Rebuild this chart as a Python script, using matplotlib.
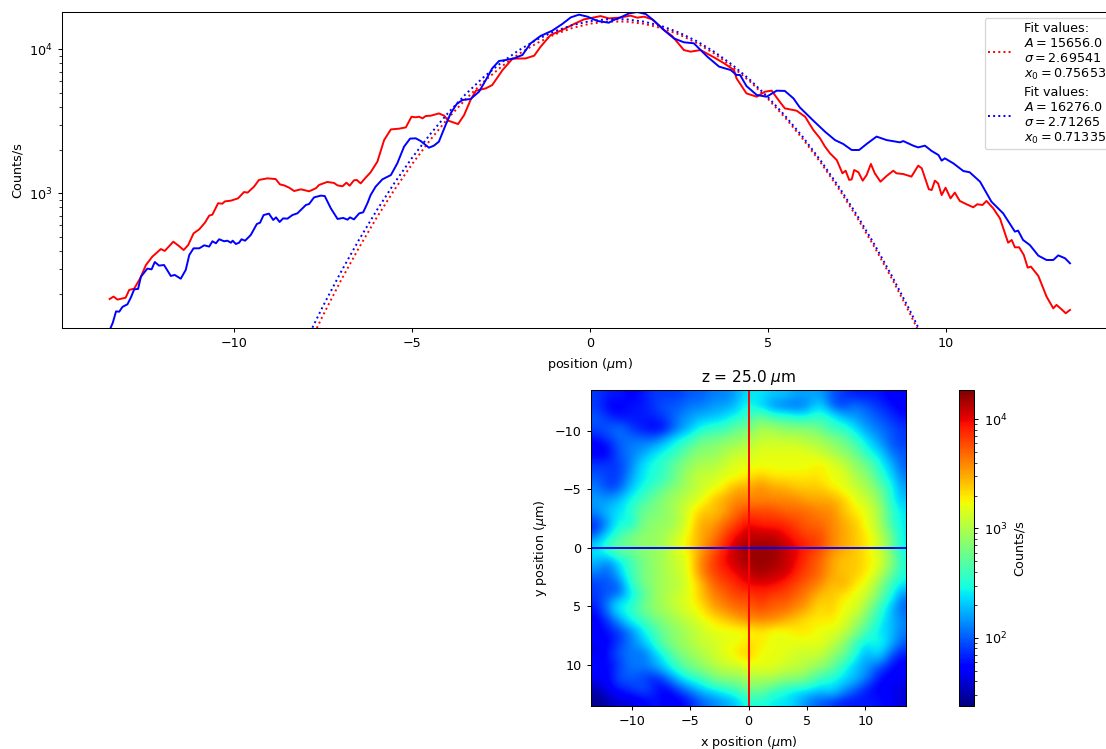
#!/usr/bin/env python3
import numpy as np
import matplotlib
matplotlib.use("Agg")
import matplotlib.pyplot as plt
from matplotlib.colors import LogNorm

W, H = 1106, 749

plt.rcParams.update({
    "font.size": 9.2,
    "lines.linewidth": 1.4,
    "axes.linewidth": 0.74,
    "patch.linewidth": 0.92,
    "xtick.major.size": 3.2,
    "ytick.major.size": 3.2,
    "xtick.minor.size": 1.85,
    "ytick.minor.size": 1.85,
    "xtick.major.width": 0.74,
    "ytick.major.width": 0.74,
    "xtick.minor.width": 0.55,
    "ytick.minor.width": 0.55,
})

# measured profiles: position (um) and log10(counts/s)
red_x = [-13.51, -13.40, -13.29, -13.06, -12.96, -12.82, -12.65, -12.49, -12.31, -12.07, -11.96, -11.72, -11.56, -11.43, -11.30, -11.15, -10.99, -10.83, -10.71, -10.62, -10.46, -10.34, -10.27, -10.10, -9.90, -9.73, -9.63, -9.45, -9.31, -9.07, -8.84, -8.72, -8.60, -8.46, -8.32, -8.13, -7.90, -7.71, -7.62, -7.39, -7.20, -7.10, -6.96, -6.85, -6.76, -6.64, -6.56, -6.45, -6.31, -6.17,
         -5.98, -5.79, -5.60, -5.37, -5.18, -5.02, -4.90, -4.81, -4.71, -4.62, -4.48, -4.25, -4.10, -3.99, -3.71, -3.54, -3.36, -3.21, -2.93, -2.75, -2.46, -2.18, -1.81, -1.57, -1.39, -1.11, -0.82, -0.45, -0.17, 0.30, 0.53, 0.82, 1.14, 1.33, 1.52, 1.75, 2.08, 2.31, 2.64, 2.83, 3.11, 3.49, 3.77, 4.05,
         4.12, 4.40, 4.69, 4.92, 5.11, 5.30, 5.48, 5.81, 6.05, 6.28, 6.47, 6.61, 6.75, 6.94, 7.10, 7.19, 7.29, 7.36, 7.43, 7.55, 7.67, 7.78, 7.90, 8.01, 8.17, 8.34, 8.53, 8.62, 8.81, 9.04, 9.23, 9.33, 9.53, 9.61, 9.70, 9.79, 9.89, 10.00, 10.14, 10.26, 10.40, 10.59, 10.78, 10.89, 11.04, 11.15, 11.34, 11.53, 11.76, 11.86, 11.95, 12.07, 12.20, 12.31, 12.40, 12.61, 12.84, 13.03, 13.12, 13.26, 13.38, 13.50]
red_log = [2.266, 2.283, 2.262, 2.275, 2.329, 2.338, 2.410, 2.502, 2.560, 2.613, 2.600, 2.664, 2.634, 2.606, 2.641, 2.722, 2.750, 2.796, 2.845, 2.852, 2.931, 2.928, 2.944, 2.949, 2.965, 3.009, 3.005, 3.046, 3.093, 3.104, 3.099, 3.062, 3.055, 3.039, 3.016, 3.028, 3.014, 3.035, 3.058, 3.079, 3.072, 3.055, 3.049, 3.074, 3.053, 3.090, 3.093, 3.069, 3.109, 3.146,
           3.220, 3.370, 3.444, 3.449, 3.458, 3.532, 3.528, 3.532, 3.521, 3.537, 3.539, 3.555, 3.539, 3.505, 3.481, 3.544, 3.648, 3.713, 3.729, 3.752, 3.856, 3.935, 3.937, 3.956, 4.018, 4.099, 4.130, 4.176, 4.208, 4.231, 4.215, 4.220, 4.234, 4.220, 4.227, 4.208, 4.134, 4.093, 3.995, 3.984, 3.995, 3.944, 3.903, 3.856,
           3.799, 3.694, 3.671, 3.706, 3.713, 3.648, 3.590, 3.574, 3.532, 3.440, 3.382, 3.324, 3.278, 3.231, 3.139, 3.157, 3.093, 3.097, 3.162, 3.146, 3.088, 3.127, 3.204, 3.139, 3.081, 3.120, 3.157, 3.139, 3.134, 3.116, 3.192, 3.174, 3.028, 3.023, 3.088, 3.069, 2.988, 3.039, 2.965, 3.005, 2.947, 2.924, 2.903, 2.924, 2.919, 2.947, 2.896, 2.826, 2.657, 2.676, 2.625, 2.625, 2.572, 2.484, 2.491, 2.426, 2.283, 2.201, 2.225, 2.195, 2.167, 2.190]

blue_x = [-13.51, -13.42, -13.33, -13.24, -13.15, -13.01, -12.91, -12.82, -12.71, -12.63, -12.45, -12.33, -12.24, -12.12, -11.98, -11.79, -11.68, -11.51, -11.37, -11.27, -11.15, -10.99, -10.85, -10.71, -10.62, -10.52, -10.43, -10.29, -10.20, -10.10, -10.05, -9.96, -9.87, -9.80, -9.70, -9.54, -9.37, -9.28, -9.18, -9.03, -8.91, -8.83, -8.73, -8.63, -8.51, -8.37, -8.23, -7.99, -7.90, -7.76, -7.57, -7.46, -7.29, -7.10, -6.94, -6.82, -6.75, -6.64, -6.49, -6.38, -6.26, -6.17,
          -6.03, -5.84, -5.60, -5.42, -5.23, -5.06, -4.90, -4.76, -4.53, -4.39, -4.25, -4.06, -3.92, -3.75, -3.59, -3.36, -3.12, -2.93, -2.75, -2.56, -2.37, -2.14, -1.90, -1.67, -1.39, -1.06, -0.78, -0.54, -0.31, -0.07, 0.21, 0.53, 0.67, 0.86, 1.10, 1.33, 1.57, 1.80, 2.08, 2.36, 2.64, 2.92, 3.30, 3.63, 3.96,
          4.12, 4.22, 4.40, 4.69, 4.97, 5.25, 5.48, 5.72, 5.90, 6.28, 6.61, 6.89, 7.12, 7.36, 7.57, 7.78, 8.06, 8.34, 8.72, 8.81, 9.09, 9.23, 9.42, 9.61, 9.80, 9.89, 9.98, 10.22, 10.50, 10.68, 10.97, 11.29, 11.62, 11.95, 12.04, 12.18, 12.37, 12.61, 12.84, 13.03, 13.17, 13.36, 13.50]
blue_log = [2.050, 2.102, 2.180, 2.178, 2.211, 2.229, 2.278, 2.333, 2.336, 2.421, 2.477, 2.472, 2.523, 2.498, 2.502, 2.426, 2.433, 2.407, 2.468, 2.572, 2.618, 2.618, 2.639, 2.630, 2.667, 2.653, 2.681, 2.667, 2.671, 2.657, 2.671, 2.648, 2.657, 2.681, 2.671, 2.711, 2.787, 2.796, 2.849, 2.859, 2.815, 2.833, 2.801, 2.826, 2.824, 2.849, 2.861, 2.919, 2.926, 2.972, 2.984, 2.981, 2.896, 2.822, 2.829, 2.817, 2.833, 2.819, 2.861, 2.868, 2.931, 2.988,
            3.046, 3.097, 3.127, 3.208, 3.324, 3.380, 3.382, 3.363, 3.317, 3.331, 3.359, 3.475, 3.555, 3.620, 3.648, 3.655, 3.706, 3.787, 3.868, 3.919, 3.926, 3.937, 3.961, 4.042, 4.093, 4.130, 4.176, 4.222, 4.241, 4.227, 4.197, 4.185, 4.204, 4.222, 4.250, 4.259, 4.245, 4.199, 4.134, 4.076, 4.049, 4.042, 3.949, 3.880, 3.856,
            3.822, 3.822, 3.745, 3.683, 3.671, 3.713, 3.711, 3.660, 3.597, 3.505, 3.428, 3.370, 3.343, 3.301, 3.301, 3.343, 3.394, 3.370, 3.354, 3.363, 3.331, 3.319, 3.331, 3.294, 3.266, 3.227, 3.243, 3.208, 3.155, 3.146, 3.081, 2.942, 2.861, 2.734, 2.741, 2.676, 2.641, 2.567, 2.537, 2.537, 2.569, 2.549, 2.514]

# fit curves, log10(counts/s)
fit_x = [-8.0, -7.5, -7.0, -6.5, -6.0, -5.5, -5.0, -4.5, -4.0, -3.5, -3.0, -2.5, -2.0, -1.5, -1.0, -0.5, 0.0, 0.5, 1.0, 1.5, 2.0, 2.5, 3.0, 3.5, 4.0, 4.5, 5.0, 5.5, 6.0, 6.5, 7.0, 7.5, 8.0, 8.5, 9.0, 9.5]
fit_red_log = [1.903, 2.157, 2.397, 2.621, 2.831, 3.025, 3.204, 3.369, 3.519, 3.653, 3.773, 3.878, 3.968, 4.042, 4.103, 4.148, 4.178, 4.193, 4.193, 4.178, 4.148, 4.104, 4.044, 3.970, 3.880, 3.776, 3.657, 3.522, 3.373, 3.209, 3.030, 2.835, 2.627, 2.403, 2.164, 1.910]
fit_blue_log = [1.971, 2.221, 2.456, 2.676, 2.881, 3.072, 3.248, 3.409, 3.556, 3.688, 3.805, 3.907, 3.994, 4.067, 4.125, 4.168, 4.196, 4.210, 4.209, 4.193, 4.163, 4.117, 4.057, 3.982, 3.893, 3.788, 3.669, 3.535, 3.387, 3.223, 3.045, 2.852, 2.645, 2.422, 2.185, 1.933]

fit_red_label = "Fit values:\n$A=15656.0$\n$\\sigma=2.69541$\n$x_0=0.75653$"
fit_blue_label = "Fit values:\n$A=16276.0$\n$\\sigma=2.71265$\n$x_0=0.71335$"

# beam map read on a 1 um grid, y = -13..13 down, x = -13..13 across, in dB of counts/s
map_db = [
    [19, 18, 18, 17, 18, 19, 19, 19, 20, 20, 21, 21, 22, 24, 24, 23, 23, 22, 22, 22, 20, 19, 18, 18, 18, 17, 17],
    [19, 17, 17, 18, 18, 19, 20, 20, 21, 21, 22, 22, 23, 25, 23, 21, 20, 20, 21, 24, 20, 19, 21, 20, 19, 18, 17],
    [20, 19, 18, 18, 18, 18, 19, 21, 22, 23, 23, 24, 25, 26, 28, 26, 26, 25, 25, 26, 25, 23, 22, 21, 20, 19, 18],
    [19, 20, 21, 19, 18, 17, 18, 21, 23, 25, 26, 26, 28, 28, 30, 30, 29, 29, 29, 28, 26, 26, 24, 22, 21, 20, 19],
    [17, 18, 20, 21, 21, 21, 23, 25, 26, 28, 28, 29, 29, 30, 31, 31, 31, 31, 30, 30, 29, 28, 26, 24, 22, 20, 19],
    [17, 17, 20, 21, 22, 24, 25, 26, 28, 29, 29, 30, 31, 31, 32, 32, 32, 32, 32, 31, 30, 29, 28, 25, 24, 21, 20],
    [19, 19, 19, 21, 24, 25, 26, 28, 29, 30, 30, 31, 32, 32, 32, 32, 32, 32, 32, 33, 32, 31, 29, 28, 25, 23, 20],
    [20, 19, 19, 22, 24, 25, 26, 28, 30, 31, 31, 32, 32, 33, 34, 33, 33, 33, 33, 33, 32, 32, 30, 29, 26, 24, 21],
    [21, 19, 20, 23, 25, 26, 28, 29, 30, 31, 32, 33, 35, 35, 36, 35, 35, 34, 34, 34, 33, 32, 31, 30, 28, 25, 22],
    [22, 22, 23, 25, 26, 28, 29, 30, 31, 32, 34, 35, 36, 36, 36, 36, 36, 36, 35, 35, 35, 34, 32, 31, 29, 25, 23],
    [21, 23, 24, 25, 28, 28, 29, 30, 32, 34, 34, 35, 37, 38, 38, 38, 37, 37, 37, 36, 36, 34, 33, 32, 30, 26, 24],
    [18, 21, 25, 24, 28, 29, 29, 30, 32, 35, 35, 37, 38, 40, 39, 39, 39, 38, 37, 37, 36, 35, 34, 32, 30, 26, 24],
    [20, 24, 26, 28, 29, 29, 30, 31, 33, 35, 36, 38, 40, 41, 41, 41, 40, 39, 38, 38, 36, 35, 34, 33, 31, 28, 24],
    [24, 26, 28, 28, 29, 29, 30, 32, 33, 35, 37, 39, 41, 42, 42, 42, 41, 40, 39, 38, 36, 35, 34, 33, 31, 28, 24],
    [23, 21, 24, 26, 28, 29, 30, 31, 32, 36, 38, 40, 41, 42, 42, 42, 41, 40, 38, 37, 35, 34, 34, 33, 32, 29, 25],
    [21, 20, 23, 26, 28, 29, 30, 31, 32, 36, 38, 39, 40, 41, 42, 41, 41, 39, 38, 37, 35, 34, 34, 33, 31, 28, 25],
    [19, 20, 20, 25, 28, 29, 30, 30, 32, 34, 37, 38, 39, 40, 40, 40, 39, 38, 37, 36, 34, 35, 33, 32, 29, 26, 24],
    [19, 20, 20, 24, 26, 29, 30, 31, 32, 34, 36, 37, 38, 38, 39, 38, 38, 37, 36, 34, 34, 33, 32, 31, 28, 25, 21],
    [18, 21, 25, 25, 28, 29, 30, 31, 32, 33, 35, 36, 37, 37, 38, 37, 37, 36, 35, 33, 34, 32, 32, 29, 26, 23, 20],
    [17, 19, 22, 25, 26, 28, 29, 30, 31, 32, 33, 34, 35, 36, 36, 36, 35, 34, 33, 33, 33, 32, 30, 28, 25, 23, 21],
    [17, 18, 19, 21, 24, 26, 28, 29, 30, 31, 32, 32, 32, 32, 33, 32, 32, 33, 33, 32, 32, 31, 29, 26, 24, 23, 21],
    [17, 17, 19, 21, 23, 25, 28, 29, 30, 31, 31, 32, 32, 33, 33, 32, 32, 32, 32, 32, 31, 29, 26, 24, 25, 23, 20],
    [16, 18, 20, 21, 20, 23, 25, 28, 29, 30, 31, 32, 33, 34, 32, 32, 32, 31, 31, 31, 29, 28, 25, 22, 24, 20, 18],
    [18, 17, 19, 21, 21, 22, 24, 26, 28, 29, 30, 31, 31, 32, 32, 32, 31, 31, 30, 29, 28, 25, 23, 22, 20, 18, 17],
    [17, 17, 20, 20, 19, 18, 20, 23, 25, 26, 28, 29, 29, 30, 30, 30, 29, 29, 28, 26, 25, 24, 23, 21, 18, 17, 17],
    [15, 17, 18, 19, 20, 18, 17, 19, 21, 23, 24, 25, 26, 28, 28, 26, 25, 24, 24, 23, 24, 22, 20, 18, 17, 17, 16],
    [14, 15, 16, 16, 17, 18, 17, 17, 18, 20, 21, 22, 23, 25, 25, 24, 24, 23, 21, 20, 19, 18, 18, 18, 18, 17, 16],
]


def rect(left, top, right, bottom):
    # pixel box of the reference to figure fractions
    return [left / W, 1 - bottom / H, (right - left) / W, (bottom - top) / H]


def main():
    fig = plt.figure(figsize=(W / 100, H / 100), dpi=100)

    ax = fig.add_axes(rect(62, 12, 1118, 327.7))
    ax.semilogy(red_x, 10 ** np.array(red_log), color="red")
    ax.semilogy(fit_x, 10 ** np.array(fit_red_log), ":", color="red", label=fit_red_label)
    ax.semilogy(blue_x, 10 ** np.array(blue_log), color="blue")
    ax.semilogy(fit_x, 10 ** np.array(fit_blue_log), ":", color="blue", label=fit_blue_label)
    ax.set_xlim(-14.85, 14.85)
    ax.set_ylim(116.6, 18170)
    ax.set_xlabel("position ($\\mu$m)")
    ax.set_ylabel("Counts/s")
    ax.legend(loc="upper right", bbox_to_anchor=(0.9975, 1), borderpad=0.25, labelspacing=0.3)

    axm = fig.add_axes(rect(590.3, 390, 906.7, 705.7))
    counts = 10 ** (np.array(map_db) / 10)
    im = axm.imshow(counts, cmap="jet", norm=LogNorm(vmin=23.7, vmax=18500),
                    extent=(-13.5, 13.5, 13.5, -13.5), interpolation="bicubic")
    axm.axvline(0, color="red")
    axm.axhline(0, color="blue")
    axm.set_xlabel("x position ($\\mu$m)")
    axm.set_ylabel("y position ($\\mu$m)")
    axm.set_title("z = 25.0 $\\mu$m")

    cax = fig.add_axes(rect(959, 390, 974.3, 706))
    fig.colorbar(im, cax=cax, label="Counts/s")

    fig.savefig("out.png", dpi=100)
    plt.close(fig)


if __name__ == "__main__":
    main()
